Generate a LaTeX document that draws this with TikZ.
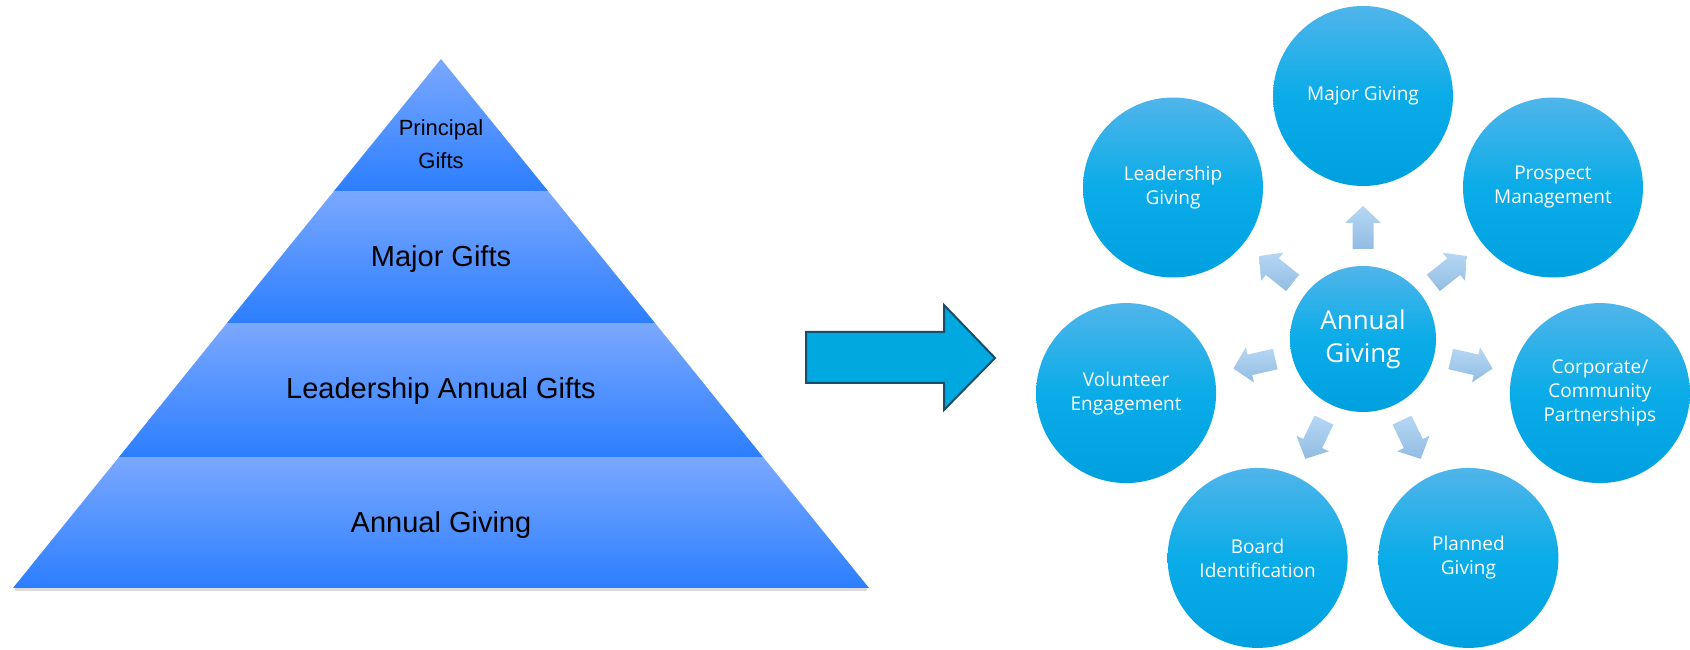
\documentclass[tikz,border=0pt]{standalone}
\usepackage{fontspec}
\setmainfont{Liberation Sans}
\newfontfamily\bubblefont{Open Sans}
\definecolor{tiertop}{RGB}{122,168,255}
\definecolor{tierbot}{RGB}{44,126,255}
\definecolor{bubtop}{RGB}{80,181,234}
\definecolor{bubmid}{RGB}{10,172,232}
\definecolor{bubbot}{RGB}{0,160,224}
\definecolor{spoketop}{RGB}{182,215,243}
\definecolor{spokebot}{RGB}{146,188,227}
\definecolor{bigfill}{RGB}{0,168,224}
\definecolor{bigedge}{RGB}{22,78,108}
\begin{document}
\begin{tikzpicture}[x=1pt,y=1pt,
tier/.style={top color=tiertop,bottom color=tierbot},
tierlabel/.style={font=\fontsize{29}{33}\selectfont,align=center},
bubble/.style={circle,minimum size=180pt,inner sep=0pt,top color=bubtop,bottom color=bubbot,middle color=bubmid,
  text=white,align=center,font=\bubblefont\fontsize{19}{24}\selectfont},
spoke/.style={top color=spoketop,bottom color=spokebot},
]
\useasboundingbox (0,0) rectangle (1690,650);
% pyramid, bottom tier first
\fill[black!14] (15,59) rectangle (867,62);
\shade[tier] (13,62) -- (869,62) -- (763,193) -- (119,193) -- cycle;
\shade[tier] (119,193) -- (763,193) -- (655,327) -- (227,327) -- cycle;
\shade[tier] (227,327) -- (655,327) -- (548,459) -- (334,459) -- cycle;
\shade[tier] (334,459) -- (548,459) -- (441,591) -- cycle;
\node[tierlabel,font=\fontsize{22}{33}\selectfont] (principal) at (441,506) {Principal\\Gifts};
\node[tierlabel] (major) at (441,391) {Major Gifts};
\node[tierlabel] (leadership) at (441,259) {Leadership Annual Gifts};
\node[tierlabel] (annual) at (441,125) {Annual Giving};
% block arrow
\draw[bigedge,fill=bigfill,line width=2pt]
    (806,318) -- (944,318) -- (944,345) -- (995,292) -- (944,240) -- (944,267) -- (806,267) -- cycle;
% hub and satellites
\node[bubble,minimum size=146pt,font=\bubblefont\fontsize{26}{33}\selectfont] (hub) at (1363,311) {Annual\\Giving};
\foreach \a in {90,141.43,192.86,244.29,295.71,347.14,38.57}
  \shade[spoke,shift={(hub.center)},rotate=\a]
    (90,-10.5) -- (116,-10.5) -- (116,-18) -- (133,0) -- (116,18) -- (116,10.5) -- (90,10.5) -- cycle;
\node[bubble] (majgiv) at ([shift={(90:243)}]hub.center) {Major Giving};
\node[bubble] (leadgiv) at ([shift={(141.43:243)}]hub.center) {Leadership\\Giving};
\node[bubble] (volunteer) at ([shift={(192.86:243)}]hub.center) {Volunteer\\Engagement};
\node[bubble] (board) at ([shift={(244.29:243)}]hub.center) {Board\\Identification};
\node[bubble] (planned) at ([shift={(295.71:243)}]hub.center) {Planned\\Giving};
\node[bubble] (corporate) at ([shift={(347.14:243)}]hub.center) {Corporate/\\Community\\Partnerships};
\node[bubble] (prospect) at ([shift={(38.57:243)}]hub.center) {Prospect\\Management};
\end{tikzpicture}
\end{document}
